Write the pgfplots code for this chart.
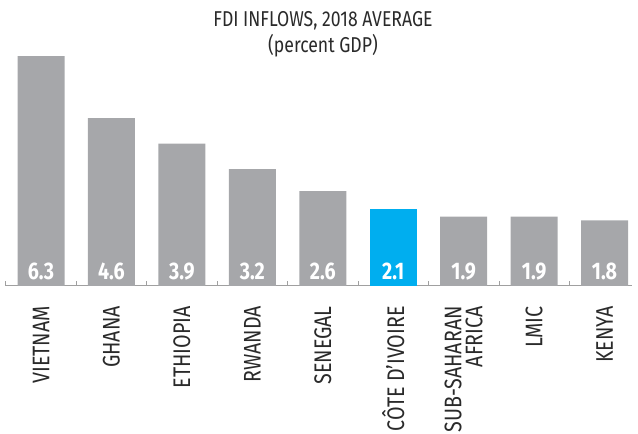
\documentclass[border=0pt]{standalone}
\usepackage{pgfplots}
\pgfplotsset{compat=1.18}
\usepackage{fontspec}
\setmainfont{Fira Sans}[FakeStretch=0.82]
\definecolor{bargray}{HTML}{A6A7AA}
\definecolor{barblue}{HTML}{00AEEF}
\definecolor{axgray}{HTML}{A0A0A0}
\definecolor{txt}{HTML}{2A2A2A}
\begin{document}
\begin{tikzpicture}[x=1pt,y=1pt]
\useasboundingbox (0,0) rectangle (638,434);
\node[font=\fontsize{21.5}{24}\selectfont, text=txt] at (323,413) {FDI INFLOWS, 2018 AVERAGE};
\node[font=\fontsize{21.5}{24}\selectfont, text=txt] at (323,388) {(percent GDP)};
\begin{axis}[
  at={(5.8pt,148pt)}, anchor=south west,
  scale only axis, width=626.2pt, height=237.25pt,
  xmin=-0.5, xmax=8.39, ymin=0, ymax=6.5,
  axis x line=bottom, axis y line=none,
  axis line style={axgray, line width=1pt, -},
  xtick={0,...,8},
  major x tick style={draw=none},
  minor xtick={-0.5,0.5,...,7.5},
  minor x tick style={axgray, line width=0.7pt},
  minor tick length=5pt,
  tick align=inside,
  xticklabels={VIETNAM,GHANA,ETHIOPIA,RWANDA,SENEGAL,{CÔTE D'IVOIRE},{SUB-SAHARAN\\AFRICA},LMIC,KENYA},
  xticklabel style={yshift=-20pt, rotate=90, anchor=east, align=right, text=txt,
    font=\fontsize{24}{21}\selectfont, inner sep=0pt},
  clip=false,
]
\addplot[ybar, bar width=47pt, bar shift=0pt, fill=bargray, draw=none]
  coordinates {(0,6.3) (1,4.6) (2,3.9) (3,3.2) (4,2.6) (6,1.9) (7,1.9) (8,1.8)};
\addplot[ybar, bar width=47pt, bar shift=0pt, fill=barblue, draw=none]
  coordinates {(5,2.1)};
\addplot[draw=none, mark=none, nodes near coords, point meta=explicit symbolic,
  every node near coord/.style={anchor=base, text=white, inner sep=0pt,
    font=\fontsize{24}{24}\selectfont\bfseries}]
  coordinates {(0,0.18)[6.3] (1,0.18)[4.6] (2,0.18)[3.9] (3,0.18)[3.2] (4,0.18)[2.6]
    (5,0.18)[2.1] (6,0.18)[1.9] (7,0.18)[1.9] (8,0.18)[1.8]};
\end{axis}
\end{tikzpicture}
\end{document}
